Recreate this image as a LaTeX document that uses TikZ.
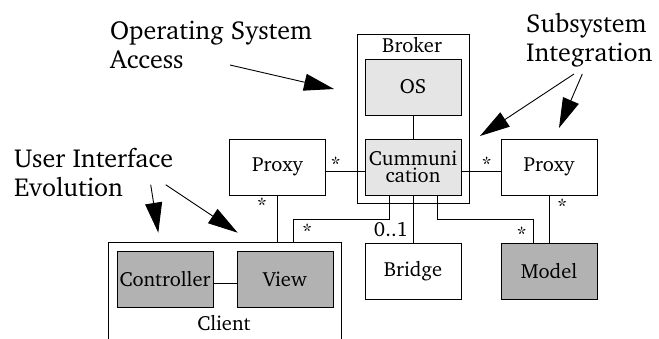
\documentclass[tikz,border=0pt]{standalone}
\usepackage[T1]{fontenc}
\usepackage{charter}
\usetikzlibrary{arrows.meta}
\begin{document}
\begin{tikzpicture}[x=1pt,y=-1pt,
  box/.style={draw,line width=0.9pt,rectangle,minimum width=96pt,minimum height=56pt,inner sep=1pt,font=\fontsize{20.5}{17.7}\selectfont,align=center},
  light/.style={box,fill=black!10},
  dark/.style={box,fill=black!30},
  conn/.style={line width=0.9pt},
  mult/.style={font=\fontsize{20.5}{20}\selectfont,inner sep=0pt},
  note/.style={font=\fontsize{26}{29}\selectfont,align=left,inner sep=0pt,anchor=north west},
  callout/.style={line width=0.9pt,-{Triangle[length=30pt,width=17pt]}}
]
\useasboundingbox (0,0) rectangle (659,338);
% containers
\node[draw,line width=0.9pt,minimum width=112pt,minimum height=169pt,inner sep=0pt] (broker) at (413,118.5) {};
\node[font=\fontsize{20.5}{20}\selectfont,anchor=center] (brokerlbl) at (412,45.5) {Broker};
\node[minimum width=232pt,minimum height=96pt,inner sep=0pt] (client) at (225,291) {};
\draw[line width=0.9pt] (client.south west) -- (client.north west) -- (client.north east) -- (client.south east);
\node[font=\fontsize{20.5}{20}\selectfont] (clientlbl) at (224,323) {Client};
% boxes
\node[light] (os) at (413,87) {OS};
\node[light] (comm) at (413,167) {Cummuni\\cation};
\node[box] (pl) at (277.5,167) {Proxy};
\node[box] (pr) at (549,167) {Proxy};
\node[dark] (ctrl) at (165,279) {Controller};
\node[dark] (view) at (285,279) {View};
\node[box] (bridge) at (413,271) {Bridge};
\node[dark] (model) at (549,271) {Model};
% connectors
\draw[conn] (os.south) -- (comm.north);
\draw[conn] ([yshift=-4pt]pl.east) -- ([yshift=-4pt]comm.west);
\draw[conn] ([yshift=-4pt]comm.east) -- ([yshift=-4pt]pr.west);
\draw[conn] (pl.south) -- (pl.south |- client.north);
\coordinate (cvtop) at (293,243);
\draw[conn] ([xshift=-24pt]comm.south) -- ++(0,24) -| (cvtop);
\draw[conn] (comm.south) -- (bridge.north);
\draw[conn] ([xshift=24pt]comm.south) -- ++(0,24) -| ([xshift=-16pt]model.north);
\draw[conn] (pr.south) -- (model.north);
\draw[conn] ([yshift=-4pt]ctrl.east) -- ([yshift=-4pt]view.west);
% multiplicities
\node[mult] (m1) at (335.7,164) {*};
\node[mult] (m2) at (486.7,164) {*};
\node[mult] (m3) at (262,205) {*};
\node[mult] (m4) at (307.3,231.5) {*};
\node[mult] (m5) at (391,230) {0..1};
\node[mult] (m6) at (521.7,234) {*};
\node[mult] (m7) at (562.3,206.5) {*};
% annotations
\node[note] (osa) at (110,20.5) {Operating System\\Access};
\node[note] (ssi) at (526,13) {Subsystem\\Integration};
\node[note] (uie) at (14,148.5) {User Interface\\Evolution};
\coordinate (t1) at (334,89);
\coordinate (t2) at (480,136);
\coordinate (t3) at (559,128);
\coordinate (t4) at (158.3,232.7);
\coordinate (t5) at (237.7,232.7);
\draw[callout] (230,65) -- (t1);
\draw[callout] (574,74) -- (t2);
\draw[callout] (582.3,74) -- (t3);
\draw[callout] (150.7,184.7) -- (t4);
\draw[callout] (165.7,184.7) -- (t5);
\end{tikzpicture}
\end{document}
